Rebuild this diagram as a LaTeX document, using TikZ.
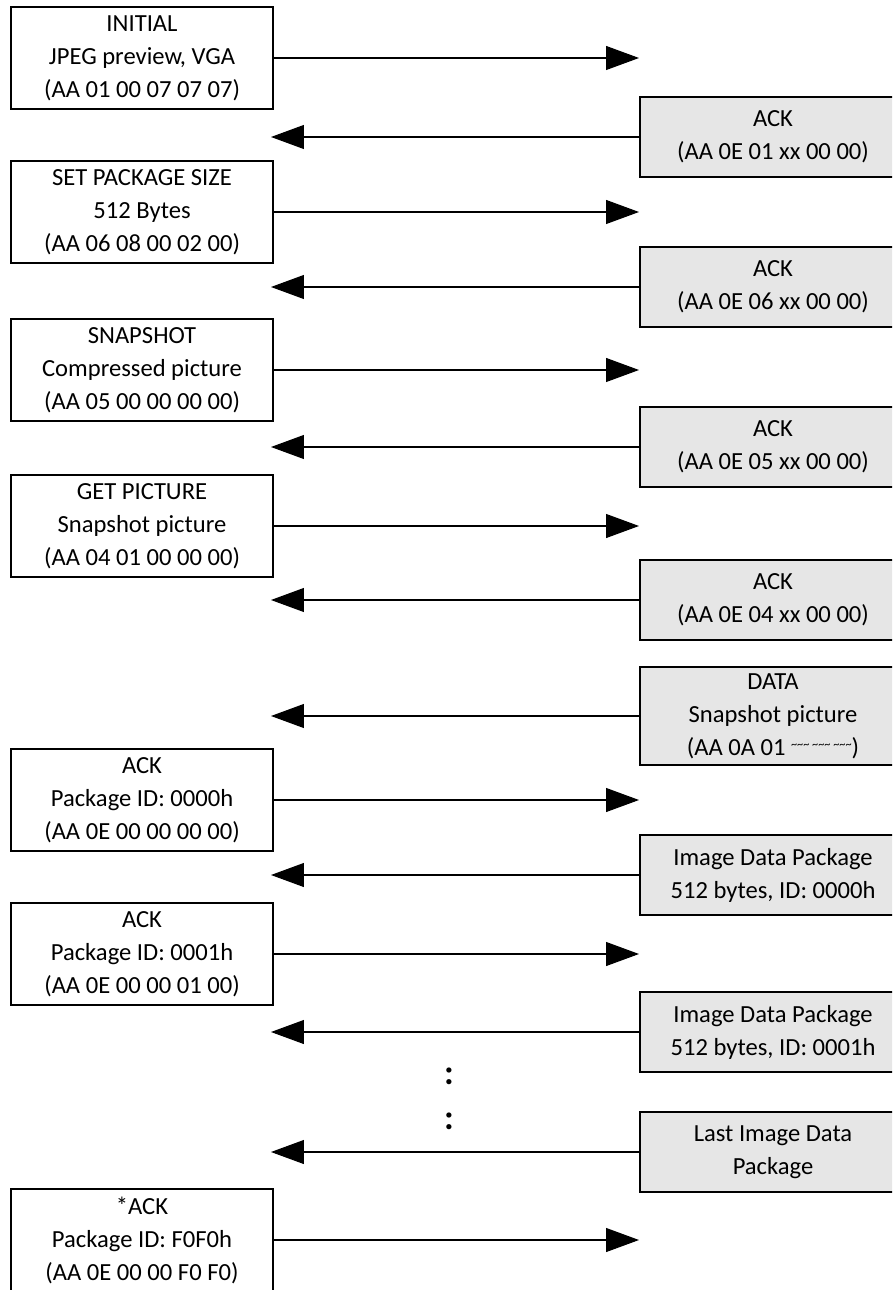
\documentclass[tikz,border=0pt]{standalone}
\usepackage{fontspec}
\setmainfont{Carlito}
\usetikzlibrary{arrows.meta}
\definecolor{camgray}{RGB}{230,230,230}
\tikzset{
  every node/.style={font=\fontsize{14}{18.8}\selectfont},
  host/.style={draw, line width=0.8pt, fill=white, minimum width=5.24cm, minimum height=2.04cm, align=center, inner sep=0pt},
  cam/.style={draw, line width=0.8pt, fill=camgray, minimum width=5.32cm, minimum height=1.6cm, align=center, inner sep=0pt},
  msg/.style={-{Triangle[length=18.7pt,width=13.6pt]}, line width=0.6pt}
}
% host -> camera, camera -> host
\newcommand{\tocam}[1]{ \draw[msg] (#1.east) -- (#1.east -| tipR);}
\newcommand{\tohost}[1]{ \draw[msg] (#1.west) -- (#1.west -| tipL);}

\begin{document}
\begin{tikzpicture}[x=0.02cm, y=-0.02cm]
        \useasboundingbox (0,0) rectangle (892,1290);
        \clip (0,0) rectangle (892,1290);
        \coordinate (tipR) at (639,0);
        \coordinate (tipL) at (271,0);

        % host side
        \node[host] (init) at (142,58) {INITIAL\\JPEG preview, VGA\\(AA 01 00 07 07 07)};
        \node[host] (size) at (142,212) {SET PACKAGE SIZE\\512 Bytes\\(AA 06 08 00 02 00)};
        \node[host] (snap) at (142,370) {SNAPSHOT\\Compressed picture\\(AA 05 00 00 00 00)};
        \node[host] (getpic) at (142,526) {GET PICTURE\\Snapshot picture\\(AA 04 01 00 00 00)};
        \node[host] (pkgack0) at (142,800) {ACK\\Package ID: 0000h\\(AA 0E 00 00 00 00)};
        \node[host] (pkgack1) at (142,954) {ACK\\Package ID: 0001h\\(AA 0E 00 00 01 00)};
        \node[host] (pkgend) at (142,1240) {*ACK\\Package ID: F0F0h\\(AA 0E 00 00 F0 F0)};

        % camera side
        \node[cam] (ackinit) at (773,137) {ACK\\(AA 0E 01 xx 00 00)};
        \node[cam] (acksize) at (773,287) {ACK\\(AA 0E 06 xx 00 00)};
        \node[cam] (acksnap) at (773,447) {ACK\\(AA 0E 05 xx 00 00)};
        \node[cam] (ackget) at (773,600) {ACK\\(AA 0E 04 xx 00 00)};
        \node[cam, minimum height=1.96cm] (data) at (773,716) {DATA\\Snapshot picture\\(AA 0A 01 {\fontsize{7}{7}\selectfont\raisebox{1.2ex}{\textasciitilde\textasciitilde\textasciitilde\ \textasciitilde\textasciitilde\textasciitilde\ \textasciitilde\textasciitilde\textasciitilde}})};
        \node[cam] (pkg0) at (773,875) {Image Data Package\\512 bytes, ID: 0000h};
        \node[cam] (pkg1) at (773,1032) {Image Data Package\\512 bytes, ID: 0001h};
        \node[cam] (pkglast) at (773,1152) {Last Image Data\\Package};

        \node[font=\fontsize{20}{20}\selectfont\bfseries] (dots1) at (449,1076) {:};
        \node[font=\fontsize{20}{20}\selectfont\bfseries] (dots2) at (449,1121) {:};

        % messages
        \tocam{init}
        \tohost{ackinit}
        \tocam{size}
        \tohost{acksize}
        \tocam{snap}
        \tohost{acksnap}
        \tocam{getpic}
        \tohost{ackget}
        \tohost{data}
        \tocam{pkgack0}
        \tohost{pkg0}
        \tocam{pkgack1}
        \tohost{pkg1}
        \tohost{pkglast}
        \tocam{pkgend}
\end{tikzpicture}
\end{document}
